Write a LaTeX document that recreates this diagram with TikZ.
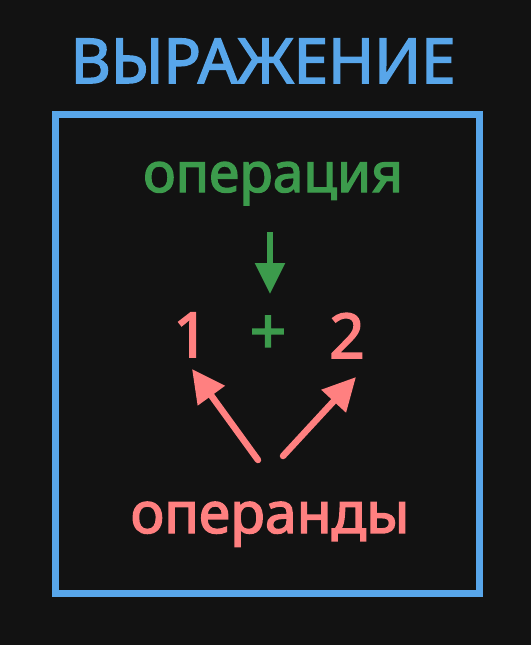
\documentclass[tikz,border=0pt]{standalone}
\usepackage{fontspec}
\setmainfont{Noto Sans}[FakeBold=2.5]
\usetikzlibrary{arrows.meta}
\definecolor{board}{RGB}{18,18,18}
\definecolor{frame}{RGB}{88,166,234}
\definecolor{opgreen}{RGB}{60,155,76}
\definecolor{argred}{RGB}{255,128,128}
\tikzset{
  every picture/.style={x=1pt, y=-1pt},
  word/.style={inner sep=0pt, anchor=base},
  title/.style={word, text=frame, font=\fontsize{62}{70}\selectfont},
  opword/.style={word, text=opgreen, font=\fontsize{55}{60}\selectfont},
  argword/.style={word, text=argred, font=\fontsize{57}{62}\selectfont},
  digit/.style={word, text=argred, font=\fontsize{62}{70}\selectfont},
  frame box/.style={draw=frame, line width=6.5pt, minimum width=424pt, minimum height=479pt, inner sep=0pt},
  opflow/.style={-{Triangle[length=31pt,width=29pt]}, draw=opgreen, line width=5.5pt},
  argflow/.style={-{Triangle[length=33pt,width=32pt]}, draw=argred, line width=6.5pt, line cap=round},
}
\begin{document}
\begin{tikzpicture}
  \fill[board] (0,0) rectangle (531,645);
  \useasboundingbox (0,0) rectangle (531,645);
  % frame and its heading
  \node[frame box] (expr) at (267.5,354) {};
  \node[title] (head) at (263,83) {ВЫРАЖЕНИЕ};
  % the expression itself
  \node[opword] (op) at (273,192) {операция};
  \node[digit] (one) at (191,357) {1};
  \node[word, anchor=center, text=opgreen, font=\fontsize{64}{70}\selectfont] (plus) at (268,335) {+};
  \node[digit] (two) at (347,358) {2};
  \node[argword] (args) at (270,533) {операнды};
  % arrows
  \coordinate (optail) at (270,232);
  \coordinate (optip) at (270,294);
  \coordinate (ltail) at (258,460);
  \coordinate (ltip) at (192,369);
  \coordinate (rtail) at (283,456);
  \coordinate (rtip) at (356,377);
  \draw[opflow] (optail) -- (optip);
  \draw[argflow] (ltail) -- (ltip);
  \draw[argflow] (rtail) -- (rtip);
\end{tikzpicture}
\end{document}
